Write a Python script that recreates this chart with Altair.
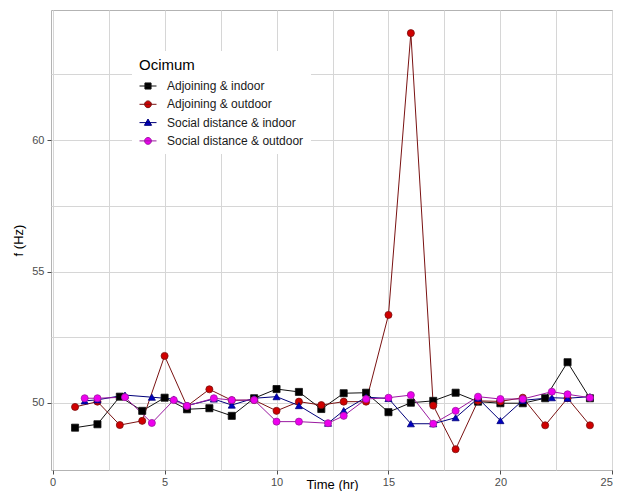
import altair as alt
import pandas as pd

series_names = ["Adjoining & indoor", "Adjoining & outdoor",
                "Social distance & indoor", "Social distance & outdoor"]

hours_adjoining = [1, 2, 3, 4, 5, 6, 7, 8, 9, 10, 11, 12,
                   13, 14, 15, 16, 17, 18, 19, 20, 21, 22, 23, 24]
hours_social = [1.43, 2, 3.23, 4.43, 5.41, 6, 7.2, 8, 9, 10, 11, 12.3,
                13, 14, 15, 16, 17, 18, 19, 20, 21, 22.3, 23, 24]

adjoining_indoor = [49.06, 49.19, 50.24, 49.70, 50.20, 49.76, 49.80, 49.51,
                    50.18, 50.53, 50.42, 49.77, 50.37, 50.39, 49.65, 50.01,
                    50.08, 50.39, 50.05, 49.99, 49.99, 50.18, 51.55, 50.18]
adjoining_outdoor = [49.85, 50.05, 49.16, 49.32, 51.79, 49.88, 50.52, 50.10,
                     50.11, 49.70, 50.05, 49.92, 50.05, 50.05, 53.35, 64.07,
                     49.90, 48.24, 50.08, 50.06, 50.20, 49.15, 50.18, 49.15]
social_indoor = [50.08, 50.12, 50.30, 50.22, 50.15, 49.90, 50.15, 49.92,
                 50.18, 50.24, 49.90, 49.23, 49.71, 50.22, 50.17, 49.21,
                 49.21, 49.44, 50.18, 49.33, 50.10, 50.20, 50.18, 50.24]
social_outdoor = [50.18, 50.18, 50.22, 49.24, 50.11, 49.89, 50.18, 50.11,
                  50.11, 49.29, 49.29, 49.23, 49.51, 50.15, 50.20, 50.30,
                  49.21, 49.70, 50.24, 50.15, 50.15, 50.43, 50.33, 50.20]

line_colors = ["#111111", "#7a1212", "#00007a", "#9a1aa0"]
marker_fills = ["#000000", "#d00000", "#0000c0", "#ee00ee"]
marker_shapes = ["square", "circle", "triangle-up", "circle"]
legend_shapes = [
    "M-1,0H1M-0.36,-0.36H0.36V0.36H-0.36Z",
    "M-1,0H1M-0.4,0A0.4,0.4,0,1,1,0.4,0A0.4,0.4,0,1,1,-0.4,0Z",
    "M-1,0H1M0,-0.42L0.42,0.32H-0.42Z",
    "M-1,0H1M-0.4,0A0.4,0.4,0,1,1,0.4,0A0.4,0.4,0,1,1,-0.4,0Z",
]

x_grid = [0, 2.5, 5, 7.5, 10, 12.5, 15, 17.5, 20, 22.5, 25]
y_grid = [50, 52.5, 55, 57.5, 60, 62.5]

rows = []
for name, hrs, vals in zip(series_names,
                           [hours_adjoining, hours_adjoining, hours_social, hours_social],
                           [adjoining_indoor, adjoining_outdoor, social_indoor, social_outdoor]):
    for h, v in zip(hrs, vals):
        rows.append({"series": name, "hour": h, "f": v})
df = pd.DataFrame(rows)

major_only = "datum.value % 5 === 0"
x_enc = alt.X("hour:Q",
              scale=alt.Scale(domain=[-0.075, 25.03], nice=False, zero=False),
              axis=alt.Axis(values=x_grid, title="Time (hr)",
                            labelExpr=f"{major_only} ? datum.label : ''",
                            labelFlush=1,
                            tickOpacity={"condition": {"test": major_only, "value": 1}, "value": 0},
                            titleY=14, titleBaseline="middle"))
y_enc = alt.Y("f:Q",
              scale=alt.Scale(domain=[47.45, 64.95], nice=False, zero=False),
              axis=alt.Axis(values=y_grid, title="f (Hz)",
                            labelExpr=f"{major_only} ? datum.label : ''",
                            tickOpacity={"condition": {"test": major_only, "value": 1}, "value": 0}))

base = alt.Chart(df)

lines = base.mark_line(strokeWidth=1).encode(
    x=x_enc, y=y_enc,
    stroke=alt.Stroke("series:N", scale=alt.Scale(domain=series_names, range=line_colors), legend=None),
    detail="series:N",
)

points = base.mark_point(filled=True, opacity=1, size=50, strokeWidth=0.8).encode(
    x=x_enc, y=y_enc,
    fill=alt.Fill("series:N", scale=alt.Scale(domain=series_names, range=marker_fills), legend=None),
    stroke=alt.Stroke("series:N", scale=alt.Scale(domain=series_names, range=line_colors), legend=None),
    shape=alt.Shape("series:N", scale=alt.Scale(domain=series_names, range=marker_shapes), legend=None),
)

legend_layer = base.transform_filter("false").mark_point(
    filled=True, opacity=1, size=289, strokeWidth=1).encode(
    x=x_enc, y=y_enc,
    fill=alt.Fill("series:N", scale=alt.Scale(domain=series_names, range=marker_fills),
                  legend=alt.Legend(title="Ocimum")),
    stroke=alt.Stroke("series:N", scale=alt.Scale(domain=series_names, range=line_colors),
                      legend=alt.Legend(title="Ocimum")),
    shape=alt.Shape("series:N", scale=alt.Scale(domain=series_names, range=legend_shapes),
                    legend=alt.Legend(title="Ocimum")),
)

chart = alt.layer(lines, points, legend_layer).resolve_scale(
    fill="independent", stroke="independent", shape="independent"
).properties(
    width=562, height=460,
    autosize=alt.AutoSizeParams(type="none"),
    padding={"left": 43, "top": 2, "right": 0, "bottom": 21},
).configure(
    font="Liberation Sans",
).configure_view(
    stroke="#b3b3b3", strokeWidth=1,
).configure_axis(
    domain=False,
    grid=True, gridColor="#d6d6d6", gridWidth=1,
    labelColor="#4d4d4d", labelFontSize=11, labelFont="Liberation Sans",
    tickColor="#4d4d4d", tickSize=4,
    titleColor="#000000", titleFontSize=13, titleFontWeight="normal", titleFont="Liberation Sans",
).configure_axisX(
    labelPadding=2,
).configure_axisY(
    labelPadding=3, titlePadding=6,
).configure_legend(
    orient="none", legendX=81, legendY=41,
    fillColor="white", padding=7,
    titleFontSize=15, titleFontWeight="normal", titleColor="#000000", titleFont="Liberation Sans",
    titlePadding=4,
    labelFontSize=12, labelColor="#1a1a1a", labelFont="Liberation Sans", labelOffset=10,
    symbolSize=289, symbolStrokeWidth=1, rowPadding=3.3,
)

chart.save("out.html", embed_options={"renderer": "svg", "actions": False})
